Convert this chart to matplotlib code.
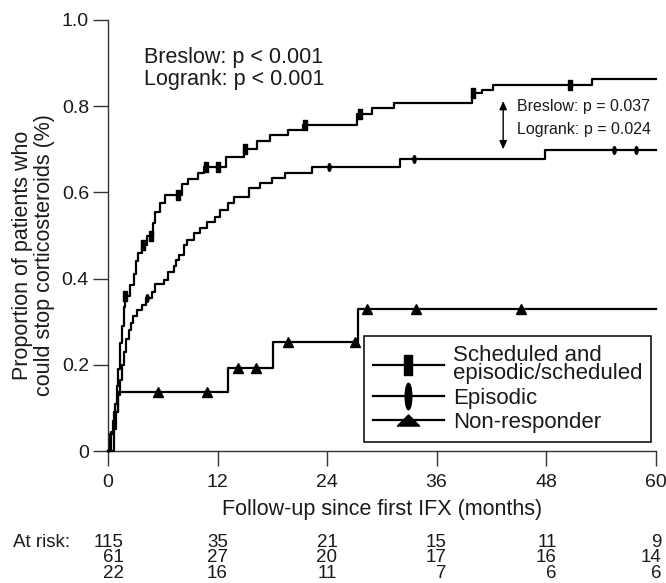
import numpy as np
import matplotlib
matplotlib.use("Agg")
import matplotlib.pyplot as plt
from matplotlib.lines import Line2D
from matplotlib.path import Path
from matplotlib.transforms import Affine2D
from matplotlib.transforms import offset_copy

plt.rcParams["font.family"] = ["Liberation Sans", "DejaVu Sans"]

# Kaplan-Meier step curves: event times (months) and
# cumulative proportion stopping corticosteroids after each step.
sched_t = [0, 0.25, 0.5, 0.8, 1.0, 1.15, 1.3, 1.5, 1.7, 1.85, 2.4, 2.8, 3.1,
           3.3, 3.7, 4.3, 4.9, 5.2, 5.7, 6.2, 8.1, 8.8, 9.9, 10.5, 12.9, 14.9,
           16.3, 17.8, 19.7, 21.4, 27.3, 28.9, 31.3, 39.9, 41.0, 42.2, 53.0]
sched_p = [0, 0.04, 0.07, 0.11, 0.15, 0.19, 0.25, 0.29, 0.335, 0.36, 0.385,
           0.41, 0.44, 0.46, 0.478, 0.50, 0.53, 0.555, 0.575, 0.594, 0.62,
           0.63, 0.645, 0.66, 0.683, 0.70, 0.72, 0.733, 0.745, 0.756, 0.783,
           0.795, 0.808, 0.83, 0.838, 0.849, 0.863]
sched_cens = [1.9, 3.8, 4.7, 7.7, 10.7, 12.1, 15.0, 21.6, 27.6, 40.0, 50.6]

epi_t = [0, 0.7, 0.9, 1.1, 1.3, 1.5, 1.7, 2.0, 2.3, 2.5, 2.7, 3.2, 3.7, 4.2,
         4.8, 5.2, 6.1, 6.6, 7.2, 7.5, 7.8, 8.3, 8.7, 9.4, 10.1, 10.8, 11.7,
         12.3, 13.2, 13.8, 15.4, 16.7, 18.0, 19.4, 22.3, 32.0, 47.9]
epi_p = [0, 0.05, 0.09, 0.13, 0.165, 0.20, 0.23, 0.26, 0.28, 0.296, 0.313,
         0.327, 0.339, 0.354, 0.37, 0.387, 0.397, 0.416, 0.43, 0.443, 0.455,
         0.478, 0.49, 0.505, 0.517, 0.532, 0.544, 0.559, 0.575, 0.59, 0.61,
         0.621, 0.633, 0.644, 0.66, 0.677, 0.698]
epi_cens = [4.3, 24.2, 33.5, 55.4, 57.8]

nonr_t = [0, 0.3, 0.7, 1.1, 13.2, 18.1, 27.4]
nonr_p = [0, 0.045, 0.09, 0.136, 0.193, 0.254, 0.329]
nonr_cens = [5.5, 10.8, 14.2, 16.2, 19.7, 27.1, 28.4, 33.7, 45.2]

END = 60
xticks = [0, 12, 24, 36, 48, 60]
yticks = [0, 0.2, 0.4, 0.6, 0.8, 1.0]
ytick_labels = ["0", "0.2", "0.4", "0.6", "0.8", "1.0"]

at_risk_sched = [115, 35, 21, 15, 11, 9]
at_risk_epi = [61, 27, 20, 17, 16, 14]
at_risk_nonr = [22, 16, 11, 7, 6, 6]

# marker shapes
rect_plot = Path([(-0.22, -0.5), (0.22, -0.5), (0.22, 0.5), (-0.22, 0.5), (0, 0)],
                 [Path.MOVETO, Path.LINETO, Path.LINETO, Path.LINETO, Path.CLOSEPOLY])
rect_leg = Path([(-0.17, -0.5), (0.17, -0.5), (0.17, 0.5), (-0.17, 0.5), (0, 0)],
                [Path.MOVETO, Path.LINETO, Path.LINETO, Path.LINETO, Path.CLOSEPOLY])
ell_plot = Path.unit_circle().transformed(Affine2D().scale(0.4, 1.0))
ell_leg = Path.unit_circle().transformed(Affine2D().scale(0.25, 1.0))
tri_leg = Path([(-1, -0.5), (1, -0.5), (0, 0.5), (0, 0)],
               [Path.MOVETO, Path.LINETO, Path.LINETO, Path.CLOSEPOLY])

LW = 1.6
INK = "#1a1a1a"
fig = plt.figure(figsize=(6.66, 5.83), dpi=100)
ax = fig.add_axes([108 / 666, 1 - 451 / 583, 547.6 / 666, 431 / 583])


def km(t, p, cens, marker, ms):
    tt = list(t) + [END]
    pp = list(p) + [p[-1]]
    ax.step(tt, pp, where="post", color="k", lw=LW, clip_on=False, zorder=3)
    cy = [p[np.searchsorted(t, c, side="right") - 1] for c in cens]
    ax.plot(cens, cy, ls="none", marker=marker, ms=ms, color="k",
            mec="k", clip_on=False, zorder=4)


km(sched_t, sched_p, sched_cens, rect_plot, 7.5)
km(epi_t, epi_p, epi_cens, ell_plot, 5.5)
km(nonr_t, nonr_p, nonr_cens, "^", 6.5)

ax.set_xlim(0, END)
ax.set_ylim(0, 1)
ax.set_xticks(xticks)
ax.set_yticks(yticks)
ax.set_yticklabels(ytick_labels)
for s in ("top", "right"):
    ax.spines[s].set_visible(False)
for s in ("left", "bottom"):
    ax.spines[s].set_color("#333333")
    ax.spines[s].set_linewidth(1.0)
ax.tick_params(axis="both", length=10.5, width=1.0, color="#333333",
               labelsize=14, labelcolor=INK)
ax.tick_params(axis="y", pad=3.2)
ax.tick_params(axis="x", pad=6)

ax.set_xlabel("Follow-up since first IFX (months)", fontsize=15.5, color=INK)
ax.xaxis.label.set_va("center")
ax.xaxis.set_label_coords(0.5, (451 - 509) / 431)
ax.set_ylabel("Proportion of patients who\ncould stop corticosteroids (%)",
              fontsize=15.5, color=INK, linespacing=1.05)
ax.yaxis.label.set_va("center")
ax.yaxis.set_label_coords((33.5 - 107.7) / 547.6, 0.455)

# overall tests
ax.text(3.9, 0.914, "Breslow: p < 0.001", fontsize=15.5, va="center",
        ha="left", color=INK)
ax.text(3.9, 0.861, "Logrank: p < 0.001", fontsize=15.5, va="center",
        ha="left", color=INK)

# scheduled vs episodic
ax.annotate("", xy=(43.3, 0.812), xytext=(43.3, 0.70),
            arrowprops=dict(arrowstyle="<|-|>,head_length=0.5,head_width=0.22",
                            color="k", lw=1.0, shrinkA=0, shrinkB=0))
ax.text(44.8, 0.799, "Breslow: p = 0.037", fontsize=11.5, va="center",
        ha="left", color=INK)
ax.text(44.8, 0.745, "Logrank: p = 0.024", fontsize=11.5, va="center",
        ha="left", color=INK)

handles = [
    Line2D([], [], color="k", lw=LW, marker=rect_leg, ms=15, mfc="k", mec="k"),
    Line2D([], [], color="k", lw=LW, marker=ell_leg, ms=19, mfc="k", mec="k"),
    Line2D([], [], color="k", lw=LW, marker=tri_leg, ms=16, mfc="k", mec="k"),
]
labels = ["Scheduled and\nepisodic/scheduled", "Episodic", "Non-responder"]
leg = ax.legend(handles, labels, loc="lower right",
                bbox_to_anchor=(0.992, 0.021), borderaxespad=0,
                fontsize=16, handlelength=3.2, handletextpad=0.4,
                borderpad=0.4, labelspacing=0.15, fancybox=False,
                framealpha=1, edgecolor="k")
leg.get_frame().set_linewidth(1.1)
for t in leg.get_texts():
    t.set_linespacing(0.85)
    t.set_color(INK)

# numbers at risk
rows_y = [547, 562.5, 578]
fs = 13.5
for row, vals in zip(rows_y, [at_risk_sched, at_risk_epi, at_risk_nonr]):
    for i, (m, v) in enumerate(zip(xticks, vals)):
        col = [at_risk_sched[i], at_risk_epi[i], at_risk_nonr[i]]
        width = max(len(str(c)) for c in col) * 0.556 * fs
        shift = width / 2 if i < len(xticks) - 1 else width * 0.3
        tr = offset_copy(ax.get_xaxis_transform(), fig=fig, x=shift,
                         y=0, units="points")
        ax.text(m, (451 - row) / 431, str(v), transform=tr, fontsize=fs,
                ha="right", va="baseline", color=INK, clip_on=False)
fig.text(13 / 666, 1 - 547 / 583, "At risk:", fontsize=fs, ha="left",
         va="baseline", color=INK)

fig.savefig("out.png", dpi=100)
